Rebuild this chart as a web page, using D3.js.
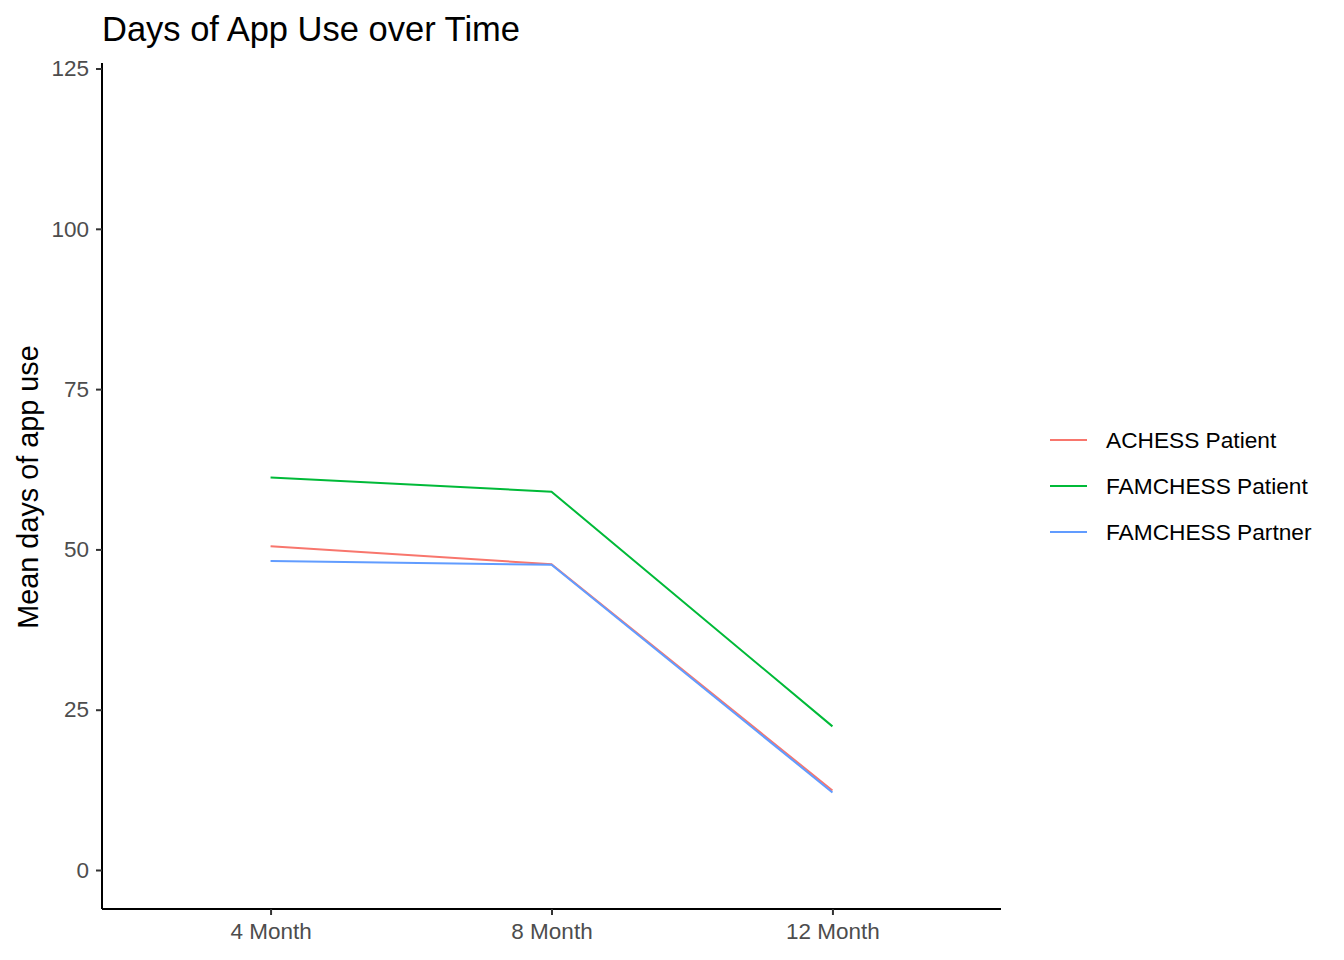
<!DOCTYPE html>
<html><head><meta charset="utf-8">
<script src="https://cdn.jsdelivr.net/npm/d3@7"></script>
<style>body{margin:0;background:#fff;} text{font-family:"Liberation Sans",Arial,sans-serif;}</style>
</head><body>
<svg id="chart" width="1344" height="960"></svg>
<script>
const categories = ["4 Month", "8 Month", "12 Month"];
const seriesNames = ["ACHESS Patient", "FAMCHESS Patient", "FAMCHESS Partner"];
const seriesColors = ["#F8766D", "#00BA38", "#619CFF"];
const achessPatient = [50.5, 47.7, 12.4];
const famchessPatient = [61.2, 59.0, 22.4];
const famchessPartner = [48.2, 47.6, 12.1];
const yTicks = [0, 25, 50, 75, 100, 125];

const series = [achessPatient, famchessPatient, famchessPartner];
const svg = d3.select("#chart");
const L = 102, R = 1001, T = 63, B = 909;

const x = d3.scaleLinear().domain([0.4, 3.6]).range([L, R]);
const y = d3.scaleLinear().domain([-6.08, 125.86]).range([B, T]);

// title
svg.append("text").attr("x", L).attr("y", 41).attr("font-size", 34.5).attr("fill", "#000").text("Days of App Use over Time");

// y axis
const yAxis = svg.append("g").attr("transform", `translate(${L},0)`)
  .call(d3.axisLeft(y).tickValues(yTicks).tickSize(6).tickPadding(7));
yAxis.select(".domain").attr("stroke", "#000").attr("stroke-width", 2).attr("d", `M0,${T}V${B}`);
yAxis.selectAll(".tick line").attr("stroke", "#333").attr("stroke-width", 2);
yAxis.selectAll(".tick text").attr("fill", "#4d4d4d").attr("font-size", 22.5).attr("font-family", "Liberation Sans, Arial, sans-serif");

// x axis
const xAxis = svg.append("g").attr("transform", `translate(0,${B})`)
  .call(d3.axisBottom(x).tickValues([1, 2, 3]).tickFormat((d) => categories[d - 1]).tickSize(6).tickPadding(8));
xAxis.select(".domain").attr("stroke", "#000").attr("stroke-width", 2).attr("d", `M${L},0H${R}`);
xAxis.selectAll(".tick line").attr("stroke", "#333").attr("stroke-width", 2);
xAxis.selectAll(".tick text").attr("fill", "#4d4d4d").attr("font-size", 22.5).attr("font-family", "Liberation Sans, Arial, sans-serif");

// y title
svg.append("text").attr("transform", `translate(38,${(T + B) / 2 + 1}) rotate(-90)`)
  .attr("text-anchor", "middle").attr("font-size", 28.8).attr("fill", "#000").text("Mean days of app use");

// lines
const line = d3.line().x((d, i) => x(i + 1)).y((d) => y(d));
series.forEach((s, k) => {
  svg.append("path").datum(s).attr("d", line).attr("fill", "none")
    .attr("stroke", seriesColors[k]).attr("stroke-width", 2);
});

// legend
seriesNames.forEach((n, k) => {
  const yy = 440 + k * 46;
  svg.append("line").attr("x1", 1050).attr("x2", 1087).attr("y1", yy).attr("y2", yy)
    .attr("stroke", seriesColors[k]).attr("stroke-width", 2);
  svg.append("text").attr("x", 1106).attr("y", yy).attr("dy", "0.35em")
    .attr("font-size", 22.7).attr("fill", "#000").text(n);
});
</script>
</body></html>
